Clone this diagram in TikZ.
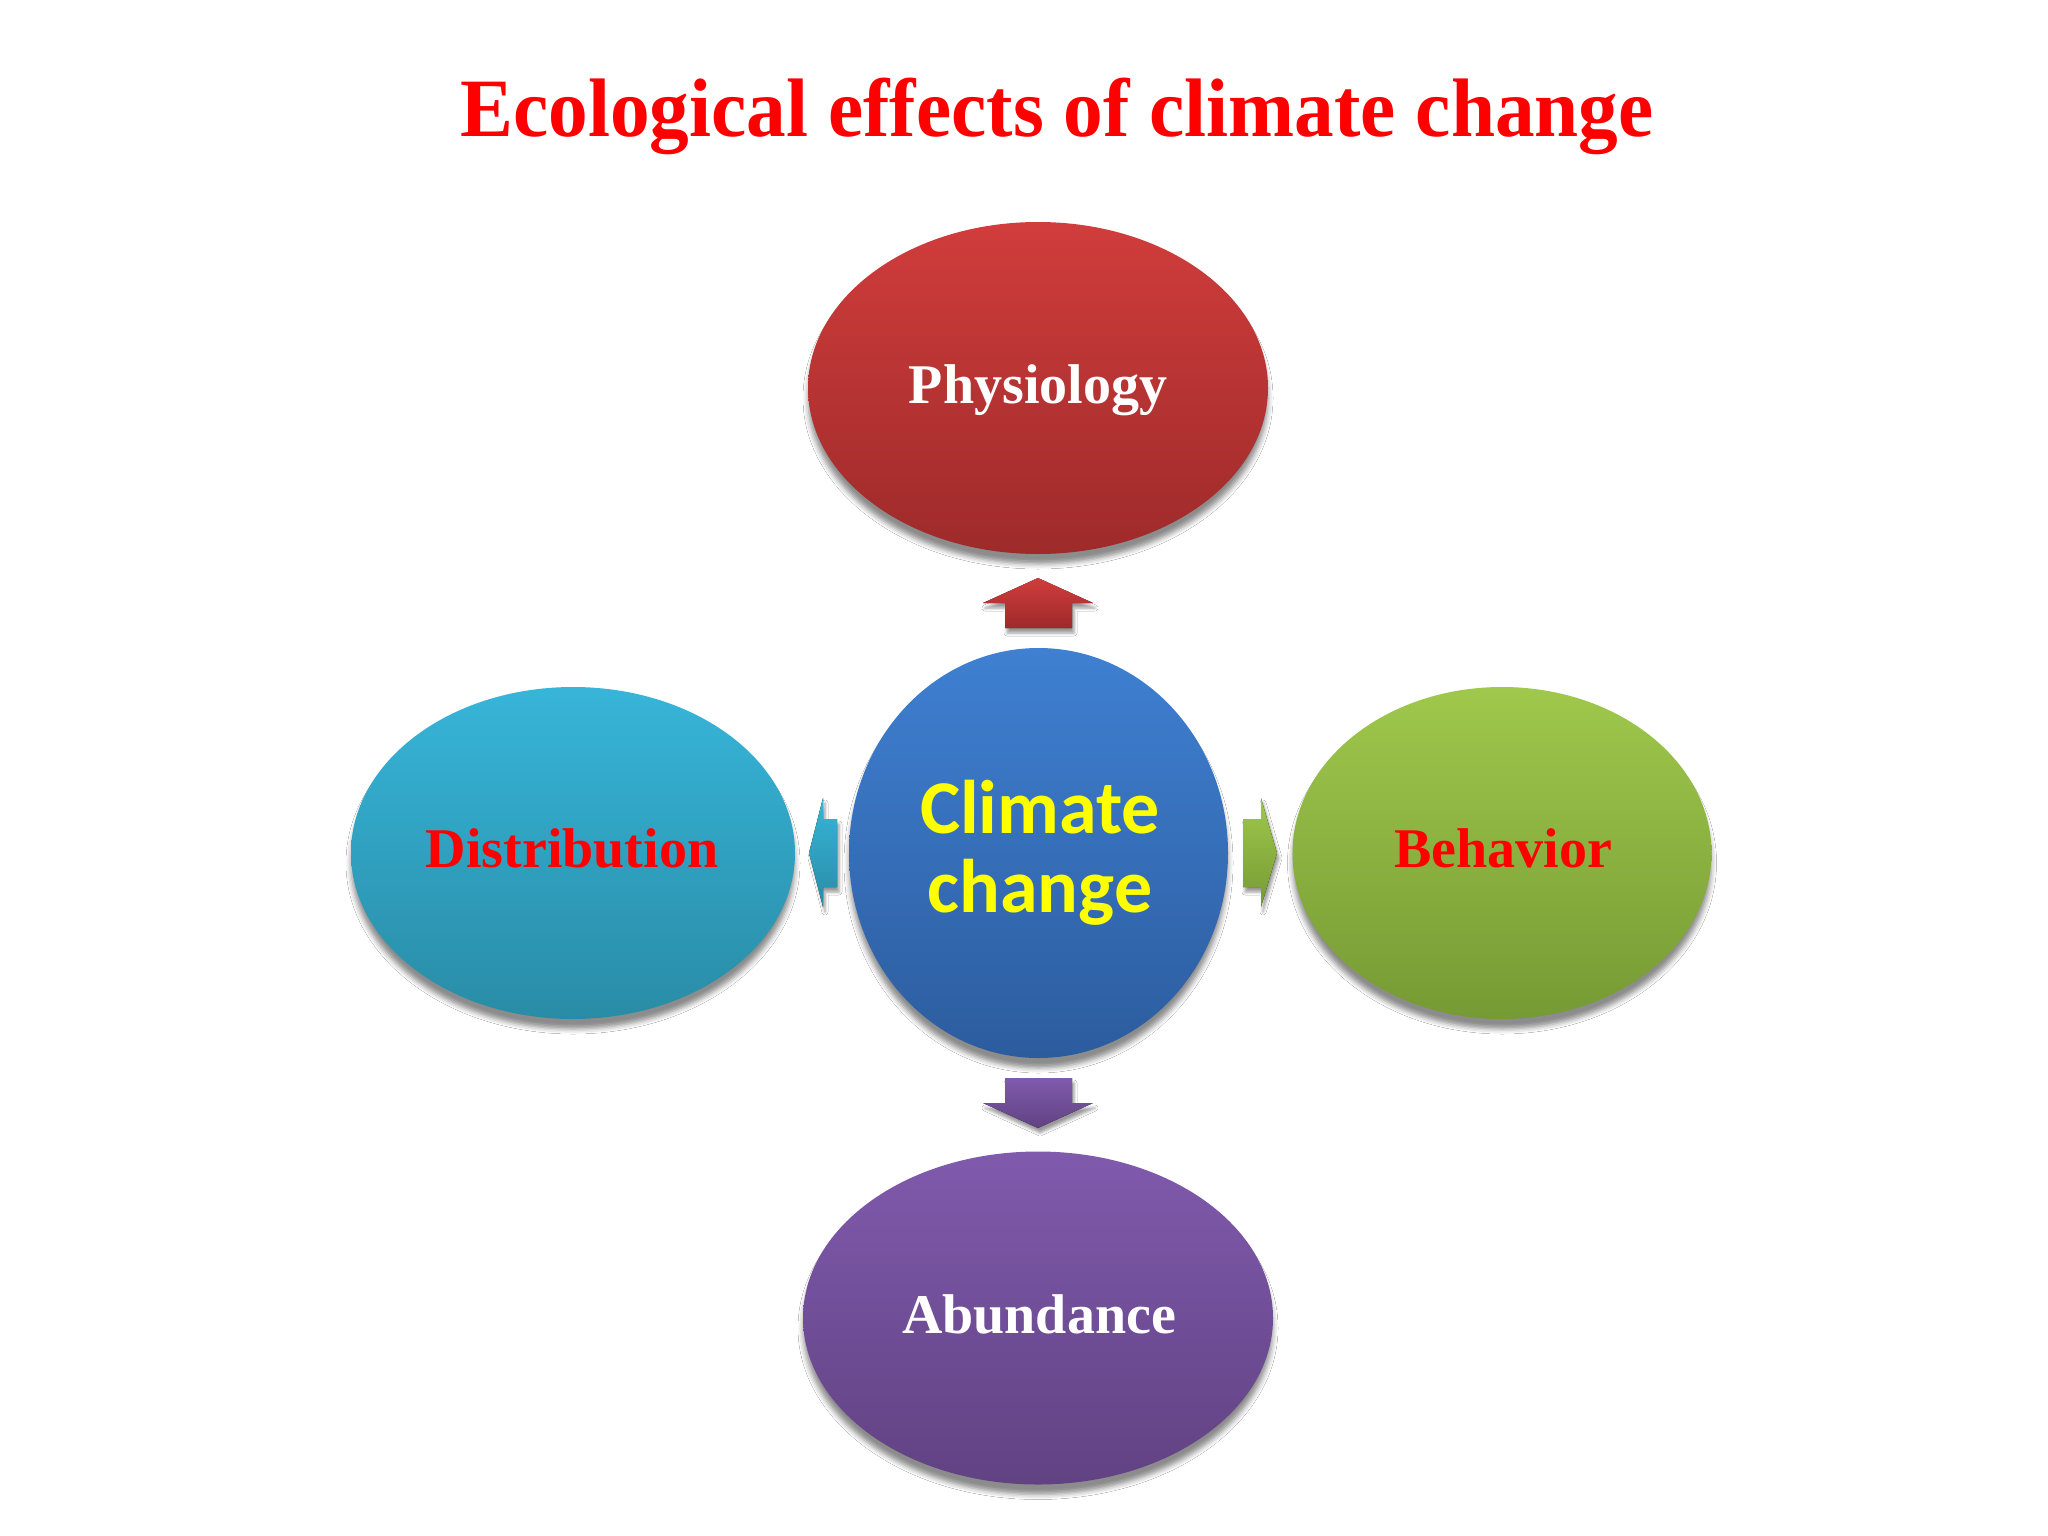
\documentclass[tikz,border=0pt]{standalone}
\usepackage{fontspec}
\setmainfont{Liberation Serif}
\newfontfamily\carlito{Carlito}
\usetikzlibrary{shapes.geometric,shadows.blur}
\definecolor{titlered}{HTML}{FF0000}
\definecolor{physTop}{HTML}{D03D3C}
\definecolor{physBot}{HTML}{9E2A2A}
\definecolor{ccTop}{HTML}{3F80D2}
\definecolor{ccBot}{HTML}{2C5C9E}
\definecolor{distTop}{HTML}{37B5D9}
\definecolor{distBot}{HTML}{298CA6}
\definecolor{behTop}{HTML}{9FC84C}
\definecolor{behBot}{HTML}{769A34}
\definecolor{abTop}{HTML}{805AAD}
\definecolor{abBot}{HTML}{614282}
\definecolor{ccYellow}{HTML}{FFFF00}
\tikzset{
  bubble/.style={ellipse, draw=none, inner sep=0pt,
    blur shadow={shadow xshift=0pt, shadow yshift=-10pt, shadow blur radius=5pt, shadow opacity=45}},
  arrowshadow/.style={blur shadow={shadow xshift=2pt, shadow yshift=-5pt, shadow blur radius=3pt, shadow opacity=40}},
  serifbold/.style={font=\bfseries\fontsize{56}{60}\selectfont, inner sep=0pt, anchor=base},
}
\begin{document}
\begin{tikzpicture}[x=1pt,y=-1pt]
\useasboundingbox[fill=white] (0,0) rectangle (2048,1536);
% title
\node[anchor=base, inner sep=0pt, text=titlered, font=\bfseries\fontsize{83}{90}\selectfont] (title) at (1057,136)
  {\scalebox{0.955}[1]{Ecological effects of climate change}};
% ellipses
\node[bubble, minimum width=460pt, minimum height=332pt, top color=physTop, bottom color=physBot] (phys) at (1038,388) {};
\node[bubble, minimum width=379pt, minimum height=410pt, top color=ccTop, bottom color=ccBot] (cc) at (1038.5,853) {};
\node[bubble, minimum width=444pt, minimum height=332pt, top color=distTop, bottom color=distBot] (dist) at (573,853) {};
\node[bubble, minimum width=419pt, minimum height=332pt, top color=behTop, bottom color=behBot] (beh) at (1502,853) {};
\node[bubble, minimum width=470pt, minimum height=333pt, top color=abTop, bottom color=abBot] (abun) at (1038,1318) {};
% arrows
\fill[arrowshadow, top color=physTop, bottom color=physBot]
  (1005,628) -- (1005,603) -- (983,603) -- (1038,578) -- (1093,603) -- (1072,603) -- (1072,628) -- cycle;
\fill[arrowshadow, top color=abTop, bottom color=abBot]
  (1005,1078) -- (1072,1078) -- (1072,1103) -- (1093,1103) -- (1038,1128) -- (983,1103) -- (1005,1103) -- cycle;
\fill[arrowshadow, top color=distTop, bottom color=distBot]
  (837,819) -- (823,819) -- (823,798) -- (809,853) -- (823,907) -- (823,887) -- (837,887) -- cycle;
\fill[arrowshadow, top color=behTop, bottom color=behBot]
  (1243,819) -- (1261,819) -- (1261,798) -- (1277,853) -- (1261,907) -- (1261,887) -- (1243,887) -- cycle;
% labels
\node[serifbold, text=white] (physT) at (1038,403) {Physiology};
\node[serifbold, text=titlered] (distT) at (572,867) {Distribution};
\node[serifbold, text=titlered] (behT) at (1503,867) {Behavior};
\node[serifbold, text=white] (abunT) at (1039,1333) {Abundance};
\node[anchor=base, inner sep=0pt, align=center, text=ccYellow, font=\carlito\bfseries\fontsize{76}{79}\selectfont] (ccT) at (1040,912) {Climate\\change};
\end{tikzpicture}
\end{document}
